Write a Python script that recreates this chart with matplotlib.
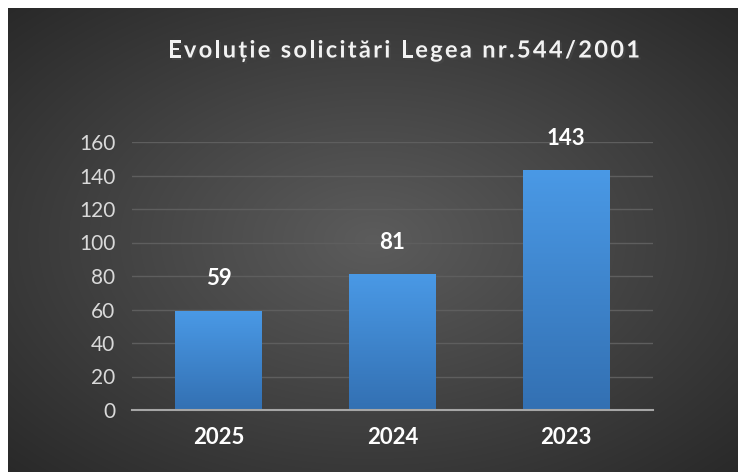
import numpy as np
import matplotlib
matplotlib.use('Agg')
import matplotlib.pyplot as plt
import matplotlib.patheffects as pe
from matplotlib import font_manager
from matplotlib.ft2font import FT2Font

years = ['2025', '2024', '2023']
requests = [59, 81, 143]
yticks = [0, 20, 40, 60, 80, 100, 120, 140, 160]
title = 'Evoluție solicitări Legea nr.544/2001'

plt.rcParams['font.family'] = ['Lato', 'DejaVu Sans']

fig = plt.figure(figsize=(7.38, 4.72), dpi=100)
fig.patch.set_facecolor('white')

# dark radial background panel
bg = fig.add_axes([8 / 738, 0, 730 / 738, 464 / 472])
yy, xx = np.mgrid[0:1:300j, 0:1:400j]
r = np.sqrt(((xx - 0.5) / 0.75) ** 2 + ((yy - 0.5) / 0.75) ** 2)
r = np.clip(r, 0, 1)
lo, hi = np.array([0.36, 0.36, 0.36]), np.array([0.15, 0.15, 0.15])
img = lo + (hi - lo) * r[..., None]
bg.imshow(img, aspect='auto', extent=[0, 1, 0, 1], interpolation='bilinear')
bg.axis('off')

ax = fig.add_axes([132 / 738, (472 - 410) / 472, (653 - 132) / 738, (410 - 142) / 472])
ax.set_facecolor('none')
x = np.arange(len(years))
bars = ax.bar(x, requests, width=0.5, color='#3d86d0', zorder=2)
ax.set_xlim(-0.5, 2.5)
ax.set_ylim(0, 160)

# vertical gradient on each bar
grad = np.linspace(0, 1, 100)[:, None]
top, bot = np.array([0.29, 0.60, 0.90]), np.array([0.20, 0.44, 0.70])
gimg = bot + (top - bot) * grad[..., None]
for b in bars:
    bx, bw, bh = b.get_x(), b.get_width(), b.get_height()
    im = ax.imshow(gimg, extent=[bx, bx + bw, 0, bh], origin='lower',
                   aspect='auto', zorder=3)
    im.set_clip_path(b)

for xi, v in zip(x, requests):
    ax.text(xi, v + 13, str(v), ha='center', va='bottom', color='white',
            fontsize=16, fontweight='bold', zorder=4)

ax.set_yticks(yticks)
ax.set_xticks(x)
ax.set_xticklabels(years, fontsize=16, fontweight='bold', color='white')
ax.tick_params(axis='y', length=0, labelsize=15, labelcolor='#d9d9d9', pad=12)
ax.tick_params(axis='x', length=0, pad=12)
ax.grid(axis='y', color='#5e5e5e', linewidth=1, zorder=1)
for s in ['top', 'right', 'left']:
    ax.spines[s].set_visible(False)
ax.spines['bottom'].set_color('#a6a6a6')
ax.spines['bottom'].set_linewidth(1.5)
ax.spines['bottom'].set_zorder(5)

# title with letter spacing, drawn char by char
tsize = 17
fpath = font_manager.findfont(font_manager.FontProperties(family='Lato', weight='bold'))
ft = FT2Font(fpath)
ft.set_size(tsize, 100)
adv = []
for c in title:
    g = ft.load_char(ord(c))
    adv.append(g.linearHoriAdvance / 65536)
left, right = 168, 640
spacing = (right - left - sum(adv)) / (len(title) - 1)
xpos = left
for c, a in zip(title, adv):
    fig.text(xpos / 738, 1 - 50 / 472, c, ha='left', va='center',
             color='#f2f2f2', fontsize=tsize, fontweight='bold',
             path_effects=[pe.withSimplePatchShadow(offset=(1.5, -1.5), alpha=0.6)])
    xpos += a + spacing

fig.savefig('out.png', dpi=100)
